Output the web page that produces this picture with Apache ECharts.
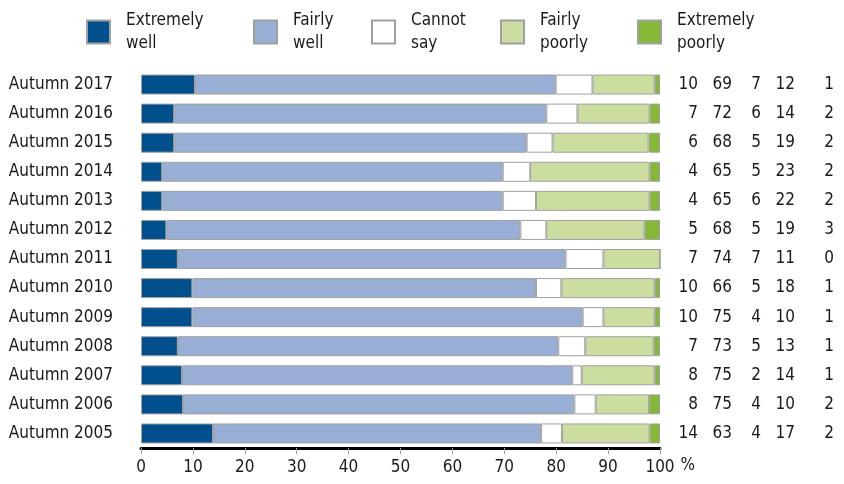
<!DOCTYPE html>
<html>
<head>
<meta charset="utf-8">
<script src="https://cdn.jsdelivr.net/npm/echarts@6/dist/echarts.min.js"></script>
<style>
  html, body { margin: 0; padding: 0; background: #fff; }
  #chart { width: 844px; height: 484px; }
</style>
</head>
<body>
<div id="chart"></div>
<script>
var categories = ['Autumn 2017', 'Autumn 2016', 'Autumn 2015', 'Autumn 2014', 'Autumn 2013', 'Autumn 2012',
  'Autumn 2011', 'Autumn 2010', 'Autumn 2009', 'Autumn 2008', 'Autumn 2007', 'Autumn 2006', 'Autumn 2005'];

// bar lengths (%)
var extremelyWell = [10.4, 6.4, 6.4, 4.1, 4.1, 4.9, 7.1, 9.9, 9.9, 7.1, 7.9, 8.1, 13.9];
var fairlyWell = [69.5, 71.7, 67.9, 65.6, 65.6, 68.2, 74.7, 66.2, 75.2, 73.3, 75.2, 75.4, 63.2];
var cannotSay = [7.1, 6.0, 5.0, 5.3, 6.4, 5.0, 7.3, 4.9, 4.0, 5.2, 1.8, 4.1, 4.0];
var fairlyPoorly = [12.0, 13.9, 18.5, 23.0, 21.9, 18.9, 10.9, 18.0, 9.9, 13.2, 14.1, 10.3, 16.9];
var extremelyPoorly = [1.0, 2.0, 2.2, 2.0, 2.0, 3.0, 0, 1.0, 1.0, 1.2, 1.0, 2.1, 2.0];

// rounded figures printed on the right
var colExtremelyWell = ['10', '7', '6', '4', '4', '5', '7', '10', '10', '7', '8', '8', '14'];
var colFairlyWell = ['69', '72', '68', '65', '65', '68', '74', '66', '75', '73', '75', '75', '63'];
var colCannotSay = ['7', '6', '5', '5', '6', '5', '7', '5', '4', '5', '2', '4', '4'];
var colFairlyPoorly = ['12', '14', '19', '23', '22', '19', '11', '18', '10', '13', '14', '10', '17'];
var colExtremelyPoorly = ['1', '2', '2', '2', '2', '3', '0', '1', '1', '1', '1', '2', '2'];

var xTicks = [0, 10, 20, 30, 40, 50, 60, 70, 80, 90, 100];

var seriesNames = ['Extremely well', 'Fairly well', 'Cannot say', 'Fairly poorly', 'Extremely poorly'];
var seriesColors = ['#00508e', '#99aed4', '#ffffff', '#cbdea0', '#85b935'];
var seriesData = [extremelyWell, fairlyWell, cannotSay, fairlyPoorly, extremelyPoorly];
var labelCols = [colExtremelyWell, colFairlyWell, colCannotSay, colFairlyPoorly, colExtremelyPoorly];

var FONT = "'DejaVu Sans Condensed', 'Liberation Sans Narrow', sans-serif";
var legendLeft = [86, 253, 371, 500, 637];
var colRight = [38, 72, 101, 135, 174];

var myChart = echarts.init(document.getElementById('chart'), null, { renderer: 'canvas' });

var legends = seriesNames.map(function(name, i) {
  return {
    data: [name],
    left: legendLeft[i],
    top: 9,
    padding: 0,
    icon: 'rect',
    itemWidth: 23,
    itemHeight: 23,
    selectedMode: false,
    formatter: function(n) { return n.replace(' ', '\n'); },
    textStyle: { fontFamily: FONT, fontSize: 17, lineHeight: 23, color: '#1a1a1a', padding: [0, 0, 0, 11] }
  };
});

var yAxes = [{
  type: 'category',
  data: categories,
  inverse: true,
  axisLine: { show: false },
  axisTick: { show: false },
  axisLabel: { fontFamily: FONT, fontSize: 17, color: '#1a1a1a', margin: 28 }
}];
labelCols.forEach(function(col, i) {
  yAxes.push({
    type: 'category',
    data: col,
    inverse: true,
    position: 'right',
    offset: colRight[i],
    axisLine: { show: false },
    axisTick: { show: false },
    axisLabel: { fontFamily: FONT, fontSize: 17, color: '#1a1a1a', margin: 0, align: 'right' }
  });
});

var option = {
  animation: false,
  legend: legends,
  grid: { left: 141, right: 184, top: 70, bottom: 36 },
  xAxis: {
    type: 'value',
    min: 0,
    max: 100,
    interval: 10,
    name: '%',
    nameLocation: 'end',
    nameGap: 9,
    nameTextStyle: { fontFamily: FONT, fontSize: 17, color: '#1a1a1a', align: 'left', verticalAlign: 'top', padding: [9, 0, 0, 0] },
    axisLine: { show: true, lineStyle: { color: '#000', width: 3 } },
    axisTick: { show: true, length: 6, lineStyle: { color: '#a0a0a0', width: 1 }, customValues: xTicks },
    axisLabel: { fontFamily: FONT, fontSize: 17, color: '#1a1a1a', margin: 11, customValues: xTicks },
    splitLine: { show: false }
  },
  yAxis: yAxes,
  series: seriesNames.map(function(name, i) {
    return {
      name: name,
      type: 'bar',
      stack: 'total',
      barWidth: 20,
      data: seriesData[i],
      itemStyle: { color: seriesColors[i], borderColor: '#a0a0a0', borderWidth: 1 }
    };
  })
};

myChart.setOption(option);
</script>
</body>
</html>
